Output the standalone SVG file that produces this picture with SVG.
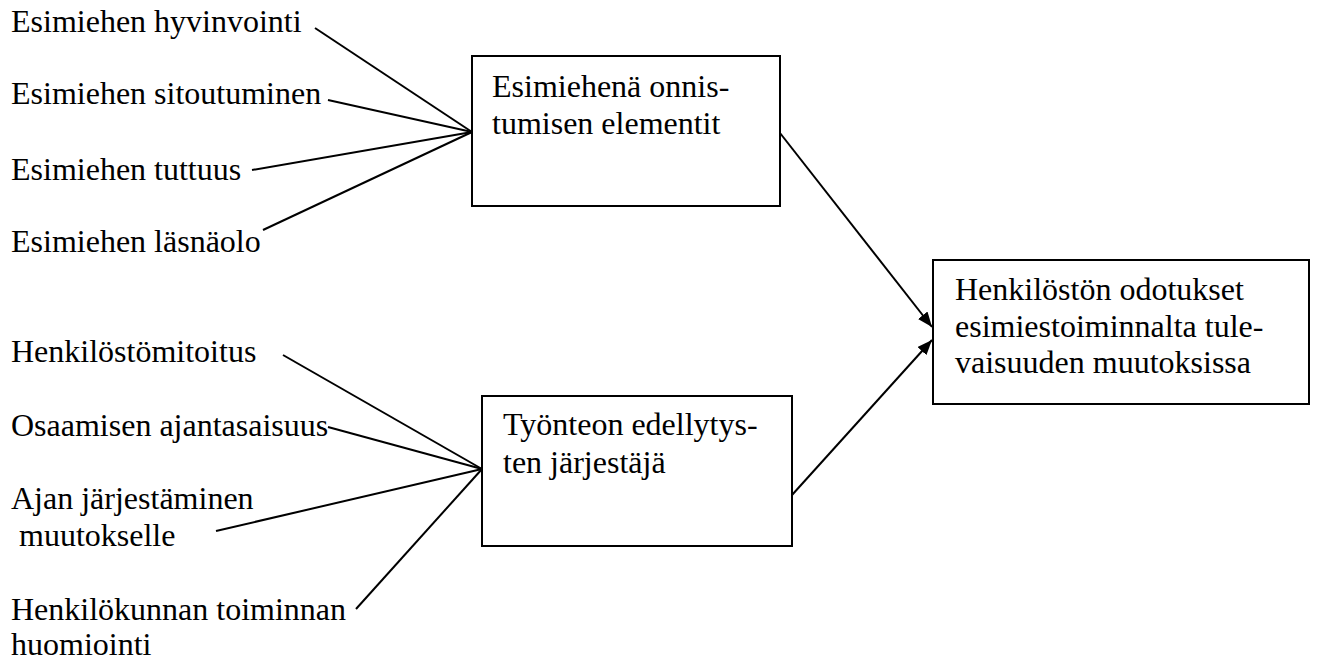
<svg xmlns="http://www.w3.org/2000/svg" width="1317" height="660" viewBox="0 0 1317 660">
<style>
text{font-family:"Liberation Serif","Times New Roman",serif;font-size:32px;fill:#000}
.box{fill:#fff;stroke:#000;stroke-width:2}
.ln{stroke:#000;stroke-width:2;fill:none}
</style>
<defs>
<marker id="ah" markerUnits="userSpaceOnUse" markerWidth="16" markerHeight="12" refX="15" refY="6" orient="auto">
<path d="M0,0 L15,6 L0,12 Z" fill="#000"/>
</marker>
</defs>
<rect width="1317" height="660" fill="#fff"/>
<g id="connectors">
<line class="ln" x1="315" y1="28" x2="472" y2="132"/>
<line class="ln" x1="328" y1="100" x2="472" y2="132"/>
<line class="ln" x1="252" y1="170" x2="472" y2="132"/>
<line class="ln" x1="263" y1="230" x2="472" y2="132"/>
<line class="ln" x1="283" y1="355" x2="482" y2="469"/>
<line class="ln" x1="328" y1="427" x2="482" y2="469"/>
<line class="ln" x1="216" y1="531" x2="482" y2="469"/>
<line class="ln" x1="356" y1="609" x2="482" y2="469"/>
<line class="ln" x1="780" y1="133" x2="932" y2="327" marker-end="url(#ah)"/>
<line class="ln" x1="792" y1="495" x2="932" y2="340" marker-end="url(#ah)"/>
</g>
<g id="l1"><text x="11" y="32">Esimiehen hyvinvointi</text></g>
<g id="l2"><text x="11" y="104">Esimiehen sitoutuminen</text></g>
<g id="l3"><text x="11" y="180">Esimiehen tuttuus</text></g>
<g id="l4"><text x="11" y="252">Esimiehen läsnäolo</text></g>
<g id="l5"><text x="11" y="362">Henkilöstömitoitus</text></g>
<g id="l6"><text x="11" y="436">Osaamisen ajantasaisuus</text></g>
<g id="l7"><text x="11" y="509">Ajan järjestäminen</text><text x="19" y="546">muutokselle</text></g>
<g id="l8"><text x="11" y="620">Henkilökunnan toiminnan</text><text x="11" y="655">huomiointi</text></g>
<g id="box1"><rect class="box" x="472" y="56" width="308" height="150"/><text x="492" y="97">Esimiehenä onnis-</text><text x="492" y="134">tumisen elementit</text></g>
<g id="box2"><rect class="box" x="482" y="396" width="310" height="150"/><text x="503" y="435">Työnteon edellytys-</text><text x="503" y="473">ten järjestäjä</text></g>
<g id="box3"><rect class="box" x="933" y="260" width="376" height="144"/><text x="955" y="300">Henkilöstön odotukset</text><text x="955" y="337">esimiestoiminnalta tule-</text><text x="955" y="373">vaisuuden muutoksissa</text></g>
</svg>
